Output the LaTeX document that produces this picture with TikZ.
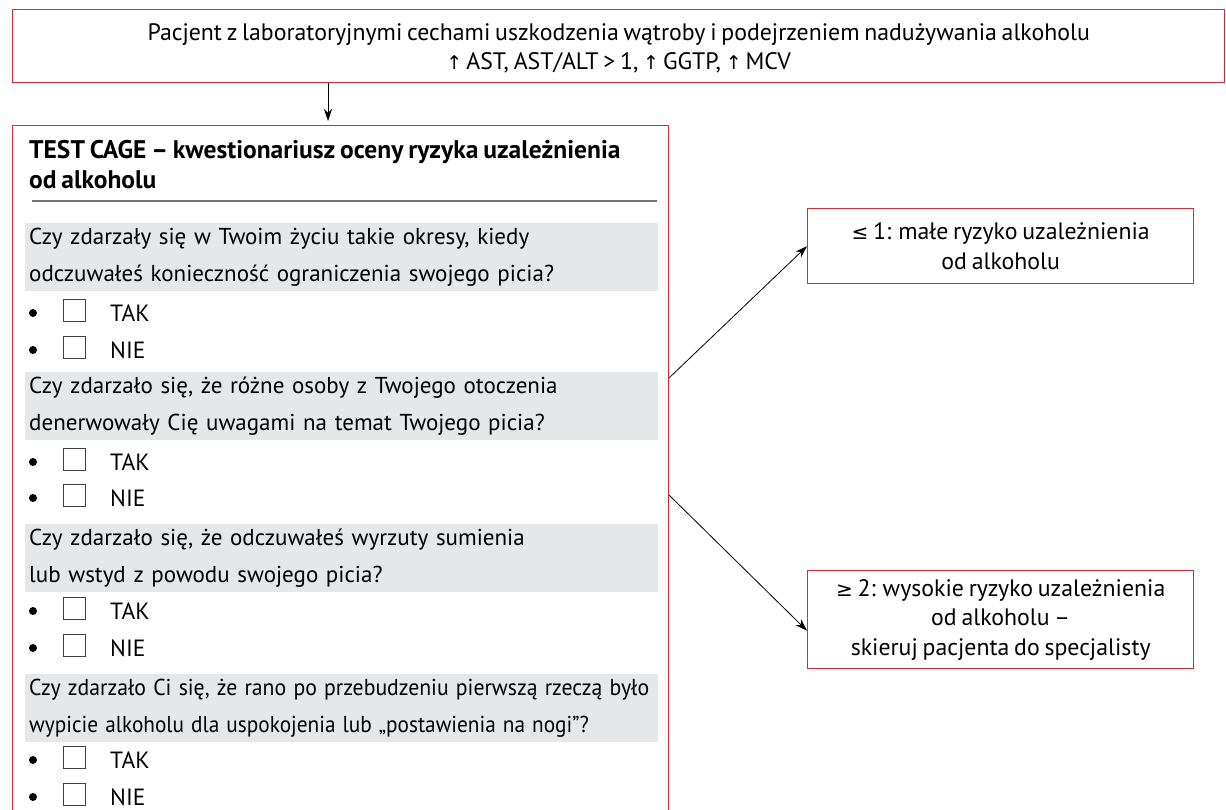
\documentclass[tikz,border=0pt]{standalone}
\usepackage{graphicx}
\usepackage{fontspec}
\setmainfont{PT Sans}[WordSpace=0.75]
\newfontfamily\symfont{DejaVu Sans}
\usetikzlibrary{arrows.meta,calc}

\definecolor{cagered}{RGB}{236,34,46}
\definecolor{bandgrey}{RGB}{230,231,232}

\tikzset{
  redbox/.style={draw=cagered, line width=1.4pt, inner sep=0pt},
  band/.style={fill=bandgrey, anchor=north west, minimum width=633pt, minimum height=68pt,
    text width=625pt, inner sep=4pt, align=left, font=\fontsize{23}{37}\selectfont},
  boxtext/.style={align=center, font=\fontsize{23.8}{29.5}\selectfont},
  bullet/.style={circle, fill=black, minimum size=8pt, inner sep=0pt},
  chk/.style={draw=black!75, line width=0.8pt, minimum size=22pt, inner sep=0pt},
  opt/.style={anchor=west, inner sep=0pt, font=\fontsize{23.5}{26}\selectfont},
  arrowline/.style={-{Stealth[length=12pt,width=8pt]}, line width=0.8pt},
  rule/.style={draw=black!55, line width=1.6pt}
}

\begin{document}
\begin{tikzpicture}[x=1pt, y=-1pt]
	\useasboundingbox (0,0) rectangle (1226,809);

	% top box
	\node[redbox, anchor=north west, minimum width=1212pt, minimum height=73pt] (patient) at (12,9) {};
	\node[boxtext] (patienttxt) at ($(patient.center)+(0,2)$)
		{Pacjent z laboratoryjnymi cechami uszkodzenia wątroby i podejrzeniem nadużywania alkoholu\\
		 {\symfont\fontsize{19}{20}\selectfont ↑}\,AST, AST/ALT > 1, {\symfont\fontsize{19}{20}\selectfont ↑}\,GGTP, {\symfont\fontsize{19}{20}\selectfont ↑}\,MCV};

	% questionnaire box
	\node[redbox, anchor=north west, minimum width=656pt, minimum height=720pt] (cage) at (12,125) {};
	\node[anchor=west, inner sep=4pt, align=left, font=\bfseries\fontsize{25.5}{30}\selectfont] (title) at (25,165)
		{TEST CAGE – kwestionariusz oceny ryzyka uzależnienia\\od alkoholu};
	\draw[rule] (32,201) -- (657,201);

	\node[band] (q1) at (25,223) {Czy zdarzały się w Twoim życiu takie okresy, kiedy\\odczuwałeś konieczność ograniczenia swojego picia?};
	\node[band] (q2) at (25,372) {Czy zdarzało się, że różne osoby z Twojego otoczenia\\denerwowały Cię uwagami na temat Twojego picia?};
	\node[band] (q3) at (25,524) {Czy zdarzało się, że odczuwałeś wyrzuty sumienia\\lub wstyd z powodu swojego picia?};
	\node[band] (q4) at (25,674) {\scalebox{0.945}[1]{Czy zdarzało Ci się, że rano po przebudzeniu pierwszą rzeczą było}\\
		\scalebox{0.925}[1]{wypicie alkoholu dla uspokojenia lub „postawienia na nogi”?}};

	% answers
	\foreach \y/\ans [count=\i] in {313/TAK, 350/NIE, 462/TAK, 498/NIE, 611/TAK, 648/NIE, 760/TAK, 797/NIE}{
		\node[bullet] (dot\i) at (33,\y) {};
		\node[chk] (chk\i) at (74.5,\y-3) {};
		\node[opt] (ans\i) at (110,\y) {\ans};
	}

	% outcome boxes
	\node[redbox, anchor=north west, minimum width=386pt, minimum height=75pt] (low) at (807,208) {};
	\node[boxtext] (lowtxt) at (low.center) {{\symfont\fontsize{20}{20}\selectfont ≤} 1: małe ryzyko uzależnienia\\od alkoholu};

	\node[redbox, anchor=north west, minimum width=386pt, minimum height=98pt] (high) at (807,570) {};
	\node[boxtext] (hightxt) at (high.center) {{\symfont\fontsize{20}{20}\selectfont ≥} 2: wysokie ryzyko uzależnienia\\od alkoholu –\\skieruj pacjenta do specjalisty};

	% connectors
	\coordinate (drop) at (328,0);
	\coordinate (fromlow) at (669,378);
	\coordinate (fromhigh) at (669,495);
	\draw[arrowline, shorten >=4pt] (patient.south -| drop) -- (cage.north -| drop);
	\draw[arrowline] (fromlow) -- (low.west);
	\draw[arrowline] (fromhigh) -- ($(high.west)+(0,11)$);
\end{tikzpicture}
\end{document}
